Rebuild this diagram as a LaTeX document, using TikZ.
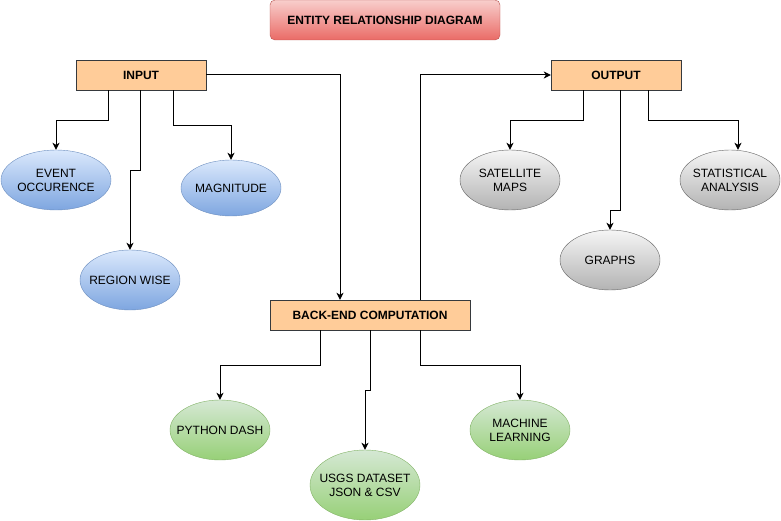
\documentclass[tikz,border=0pt]{standalone}
\usepackage{fontspec}
\setmainfont{Liberation Sans}
\usetikzlibrary{shapes.geometric, arrows.meta, positioning}
\definecolor{headtop}{HTML}{F8CECC}
\definecolor{headbot}{HTML}{EA6B66}
\definecolor{headline}{HTML}{B85450}
\definecolor{stagefill}{HTML}{FFCC99}
\definecolor{stageline}{HTML}{36393D}
\definecolor{bluetop}{HTML}{DAE8FC}
\definecolor{bluebot}{HTML}{7EA6E0}
\definecolor{blueline}{HTML}{6C8EBF}
\definecolor{graytop}{HTML}{F5F5F5}
\definecolor{graybot}{HTML}{B3B3B3}
\definecolor{grayline}{HTML}{666666}
\definecolor{greentop}{HTML}{D5E8D4}
\definecolor{greenbot}{HTML}{97D077}
\definecolor{greenline}{HTML}{82B366}
\tikzset{
    heading/.style={rectangle, rounded corners=5pt, minimum width=230pt, minimum height=40pt, inner sep=0pt, draw=headline, top color=headtop, bottom color=headbot, font=\bfseries\fontsize{12}{14}\selectfont},
    stage/.style={rectangle, minimum height=30pt, inner sep=0pt, draw=stageline, fill=stagefill, font=\bfseries\fontsize{12}{14}\selectfont},
    item/.style={ellipse, minimum width=100pt, minimum height=60pt, inner xsep=-20pt, inner ysep=0pt, align=center, font=\fontsize{12}{14}\selectfont},
    inputitem/.style={item, draw=blueline, top color=bluetop, bottom color=bluebot},
    outputitem/.style={item, draw=grayline, top color=graytop, bottom color=graybot},
    backitem/.style={item, draw=greenline, top color=greentop, bottom color=greenbot},
    arrow/.style={-{Stealth[length=7pt, width=7pt, inset=2pt]}, line width=1pt, draw=black}
}
\begin{document}
\begin{tikzpicture}[x=1pt, y=-1pt]
        \useasboundingbox (0,0) rectangle (781,521);

        % Titolo e blocchi principali
        \node (titolo) [heading] at (385,20) {ENTITY RELATIONSHIP DIAGRAM};
        \node (input) [stage, minimum width=130pt] at (141,75) {INPUT};
        \node (output) [stage, minimum width=130pt] at (616,75) {OUTPUT};
        \node (backend) [stage, minimum width=200pt] at (370,315) {BACK-END COMPUTATION};

        % Ingressi
        \node (event) [inputitem, minimum width=110pt] at (56,180) {EVENT\\OCCURENCE};
        \node (magnitude) [inputitem, minimum height=56pt] at (231,188) {MAGNITUDE};
        \node (region) [inputitem] at (130,280) {REGION WISE};

        % Uscite
        \node (satellite) [outputitem] at (510,180) {SATELLITE\\MAPS};
        \node (graphs) [outputitem] at (610,260) {GRAPHS};
        \node (stats) [outputitem] at (730,180) {STATISTICAL\\ANALYSIS};

        % Calcolo
        \node (python) [backitem] at (220,430) {PYTHON DASH};
        \node (usgs) [backitem, minimum width=110pt, minimum height=70pt] at (365,485) {USGS DATASET\\JSON \& CSV};
        \node (machine) [backitem] at (520,430) {MACHINE\\LEARNING};

        % Connessioni da INPUT
        \draw [arrow] ([xshift=-33pt]input.south) -- ++(0,30) -| (event.north);
        \draw [arrow] ([xshift=-1pt]input.south) -- ++(0,80) -| (region.north);
        \draw [arrow] ([xshift=32pt]input.south) -- ++(0,35) -| (magnitude.north);
        \draw [arrow] (input.east) -| ([xshift=-30pt]backend.north);

        % Connessioni verso e da OUTPUT
        \draw [arrow] ([xshift=50pt]backend.north) |- (output.west);
        \draw [arrow] ([xshift=-33pt]output.south) -- ++(0,30) -| (satellite.north);
        \draw [arrow] ([xshift=4pt]output.south) -- ++(0,120) -| (graphs.north);
        \draw [arrow] ([xshift=32pt]output.south) -- ++(0,30) -| ([xshift=8pt]stats.north);

        % Connessioni da BACK-END
        \draw [arrow] ([xshift=-50pt]backend.south) -- ++(0,35) -| (python.north);
        \draw [arrow] (backend.south) -- ++(0,60) -| (usgs.north);
        \draw [arrow] ([xshift=50pt]backend.south) -- ++(0,35) -| (machine.north);

    \end{tikzpicture}
\end{document}
